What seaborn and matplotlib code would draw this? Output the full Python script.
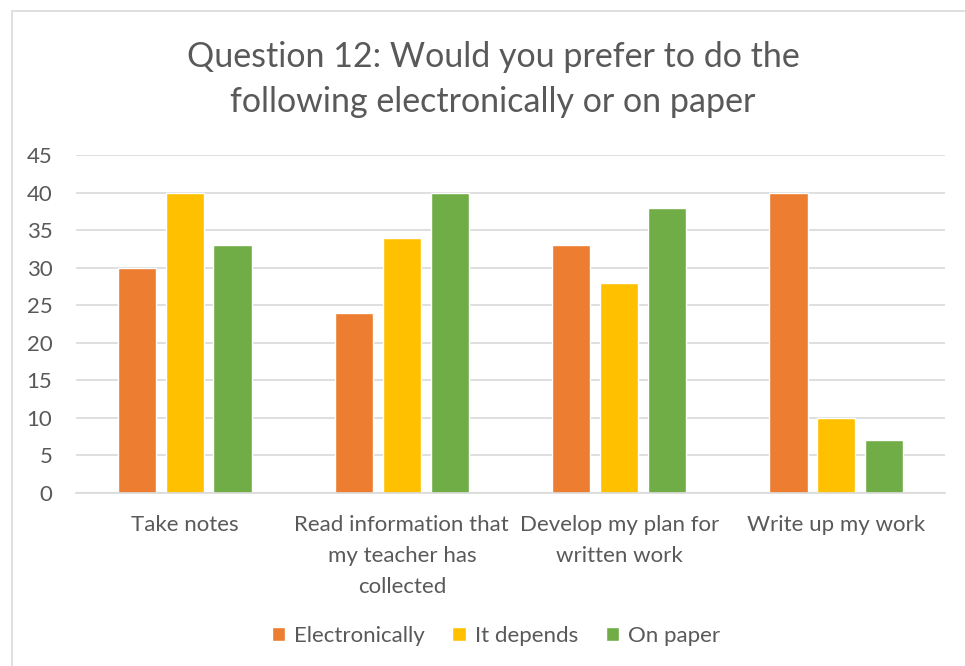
import matplotlib
matplotlib.use('Agg')
import matplotlib.pyplot as plt
import pandas as pd
import seaborn as sns
from matplotlib.patches import Rectangle

# Data
categories = ['Take notes', 'Read information that\nmy teacher has\ncollected',
              'Develop my plan for\nwritten work', 'Write up my work']
electronically = [30, 24, 33, 40]
it_depends = [40, 34, 28, 10]
on_paper = [33, 40, 38, 7]
series = ['Electronically', 'It depends', 'On paper']
colors = ['#ED7D31', '#FFC000', '#70AD47']

df = pd.DataFrame({'Task': categories * 3,
                   'Answer': [s for s in series for _ in categories],
                   'Count': electronically + it_depends + on_paper})

sns.set_style('white')
plt.rcParams['font.family'] = ['Lato', 'DejaVu Sans']
text_color = '#595959'

fig = plt.figure(figsize=(9.65, 6.66), dpi=100)
ax = fig.add_axes([76 / 965, 1 - 493 / 666, (945 - 76) / 965, (493 - 155) / 666])

sns.barplot(data=df, x='Task', y='Count', hue='Answer', hue_order=series,
            palette=colors, width=0.66, gap=0.2, saturation=1, ax=ax, legend=True)

ax.set_ylim(0, 45)
ax.set_yticks(range(0, 46, 5))
ax.set_xlim(-0.5, 3.5)
ax.yaxis.grid(True, color='#D9D9D9', linewidth=1.2)
ax.set_axisbelow(True)
for s in ['top', 'right', 'left']:
    ax.spines[s].set_visible(False)
ax.spines['bottom'].set_color('#D9D9D9')
ax.spines['bottom'].set_linewidth(1.2)
ax.tick_params(axis='both', length=0, labelsize=16, colors=text_color)
ax.tick_params(axis='x', pad=16)
ax.tick_params(axis='y', pad=17)
ax.set_xticks(range(len(categories)))
ax.set_xticklabels(categories, linespacing=1.67)
ax.set_xlabel('')
ax.set_ylabel('')

fig.text(0.511, 1 - 79.5 / 666, 'Question 12: Would you prefer to do the\nfollowing electronically or on paper',
         ha='center', va='center', fontsize=24.5, color=text_color, linespacing=1.47)

ax.legend(loc='center', bbox_to_anchor=(0.483, (493 - 636) / (493 - 155)), ncol=3,
          frameon=False, fontsize=16, labelcolor=text_color, handlelength=0.6,
          handleheight=0.6, handletextpad=0.4, columnspacing=1.25)

# chart border
fig.patches.append(Rectangle((12 / 965, -0.01), 1, 1 - 11 / 666 + 0.01, transform=fig.transFigure,
                             fill=False, edgecolor='#D9D9D9', linewidth=1.2))

fig.savefig('out.png', dpi=100)
